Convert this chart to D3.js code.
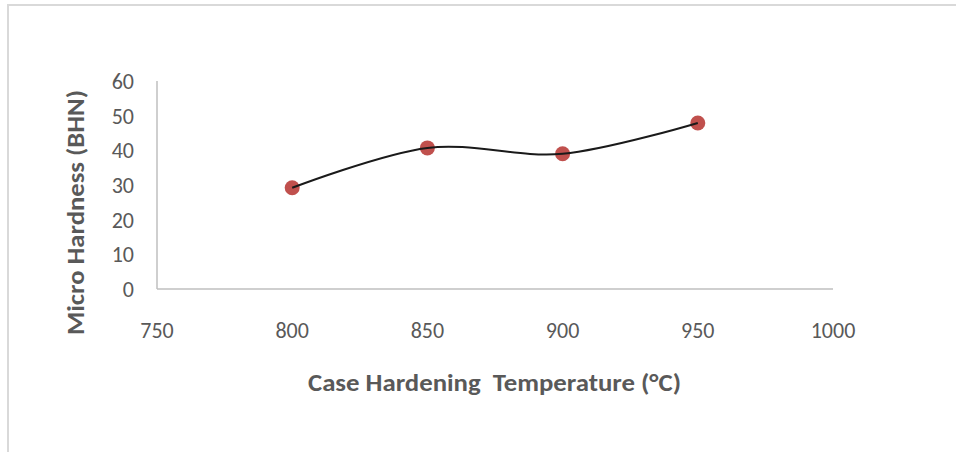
<!DOCTYPE html>
<html>
<head>
<meta charset="utf-8">
<script src="https://cdn.jsdelivr.net/npm/d3@7"></script>
<style>
  body { margin: 0; background: #fff; }
  svg text { font-family: Carlito, Calibri, Lato, sans-serif; }
</style>
</head>
<body>
<div id="chart"></div>
<script>
// data
const temperatures = [800, 850, 900, 950];
const hardness = [29.2, 40.7, 39.0, 47.9];
const xTicks = [750, 800, 850, 900, 950, 1000];
const yTicks = [0, 10, 20, 30, 40, 50, 60];

const width = 956, height = 452;
const svg = d3.select('#chart').append('svg')
    .attr('width', width)
    .attr('height', height);

// chart frame (only top and left visible in the picture)
svg.append('rect')
    .attr('x', 8).attr('y', 5)
    .attr('width', 960).attr('height', 460)
    .attr('fill', 'none')
    .attr('stroke', '#d9d9d9')
    .attr('stroke-width', 2);

const x = d3.scaleLinear().domain([750, 1000]).range([157, 833]);
const y = d3.scaleLinear().domain([0, 60]).range([289, 81]);

// axis lines
svg.append('line')
    .attr('x1', x(750)).attr('x2', x(1000))
    .attr('y1', y(0)).attr('y2', y(0))
    .attr('stroke', '#bfbfbf').attr('stroke-width', 1.5);
svg.append('line')
    .attr('x1', x(750)).attr('x2', x(750))
    .attr('y1', y(0)).attr('y2', y(60))
    .attr('stroke', '#bfbfbf').attr('stroke-width', 1.5);

// tick labels
svg.selectAll('.ytick')
    .data(yTicks)
    .enter()
    .append('text')
    .attr('x', 134)
    .attr('y', d => y(d) + 8)
    .attr('text-anchor', 'end')
    .attr('font-size', 22)
    .attr('fill', '#595959')
    .text(d => d);

svg.selectAll('.xtick')
    .data(xTicks)
    .enter()
    .append('text')
    .attr('x', d => x(d))
    .attr('y', 338)
    .attr('text-anchor', 'middle')
    .attr('font-size', 22)
    .attr('fill', '#595959')
    .text(d => d);

// axis titles
svg.append('text')
    .attr('x', 308).attr('y', 391)
    .attr('font-size', 24)
    .attr('font-weight', 'bold')
    .attr('fill', '#595959')
    .attr('textLength', 373)
    .attr('lengthAdjust', 'spacingAndGlyphs')
    .attr('xml:space', 'preserve')
    .text('Case Hardening  Temperature (°C)');

svg.append('text')
    .attr('transform', 'translate(84,335) rotate(-90)')
    .attr('font-size', 24)
    .attr('font-weight', 'bold')
    .attr('fill', '#595959')
    .attr('textLength', 245)
    .attr('lengthAdjust', 'spacingAndGlyphs')
    .text('Micro Hardness (BHN)');

const points = temperatures.map((t, i) => ({ t, h: hardness[i] }));

// markers
svg.selectAll('circle')
    .data(points)
    .enter()
    .append('circle')
    .attr('cx', d => x(d.t))
    .attr('cy', d => y(d.h))
    .attr('r', 7.5)
    .attr('fill', '#c0504d');

// smoothed line drawn over the markers, like Excel does
const line = d3.line()
    .x(d => x(d.t))
    .y(d => y(d.h))
    .curve(d3.curveCardinal.tension(0));

svg.append('path')
    .datum(points)
    .attr('d', line)
    .attr('fill', 'none')
    .attr('stroke', '#1a1a1a')
    .attr('stroke-width', 2);
</script>
</body>
</html>
